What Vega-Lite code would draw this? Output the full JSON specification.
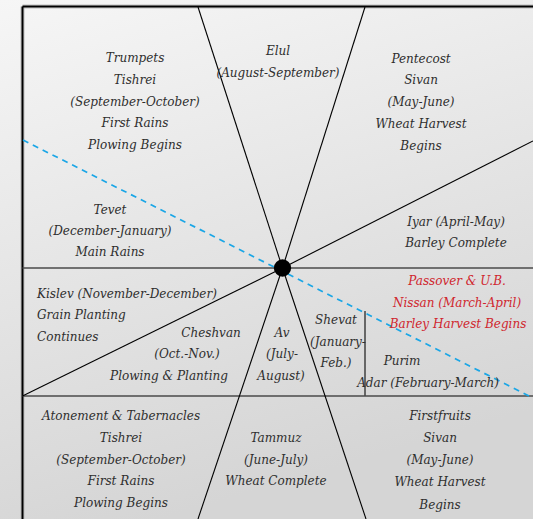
{
  "$schema": "https://vega.github.io/schema/vega-lite/v6.json",
  "width": 533,
  "height": 519,
  "padding": 0,
  "autosize": {"type": "none"},
  "background": "#eeeeee",
  "config": {"view": {"stroke": null}},
  "layer": [
    {
      "data": {"values": [{"x": 0, "y": 0, "x2": 533, "y2": 519}]},
      "mark": {"type": "rect", "fill": {"gradient": "linear", "x1": 0, "y1": 0, "x2": 0.3, "y2": 1, "stops": [{"offset": 0, "color": "#f6f6f6"}, {"offset": 1, "color": "#d5d5d5"}]}},
      "encoding": {
        "x": {"field": "x", "type": "quantitative", "scale": {"domain": [0, 533], "nice": false, "zero": false}, "axis": null},
        "x2": {"field": "x2"},
        "y": {"field": "y", "type": "quantitative", "scale": {"domain": [0, 519], "nice": false, "zero": false, "reverse": true}, "axis": null},
        "y2": {"field": "y2"}
      }
    },
    {
      "data": {"values": [
        {"x": 22.5, "y": 6.5, "x2": 22.5, "y2": 519},
        {"x": 22.5, "y": 6.5, "x2": 533, "y2": 6.5}
      ]},
      "mark": {"type": "rule", "stroke": "#b8b8b8", "strokeWidth": 4.5, "opacity": 0.6},
      "encoding": {
        "x": {"field": "x", "type": "quantitative"},
        "x2": {"field": "x2"},
        "y": {"field": "y", "type": "quantitative"},
        "y2": {"field": "y2"}
      }
    },
    {
      "data": {"values": [
        {"x": 22.5, "y": 6.5, "x2": 22.5, "y2": 519},
        {"x": 22.5, "y": 6.5, "x2": 533, "y2": 6.5}
      ]},
      "mark": {"type": "rule", "stroke": "#000000", "strokeWidth": 2},
      "encoding": {
        "x": {"field": "x", "type": "quantitative"},
        "x2": {"field": "x2"},
        "y": {"field": "y", "type": "quantitative"},
        "y2": {"field": "y2"}
      }
    },
    {
      "data": {"values": [
        {"x": 22.5, "y": 268, "x2": 533, "y2": 268},
        {"x": 22.5, "y": 396, "x2": 533, "y2": 396},
        {"x": 365, "y": 311, "x2": 365, "y2": 396}
      ]},
      "mark": {"type": "rule", "stroke": "#4a4a4a", "strokeWidth": 1.6},
      "encoding": {
        "x": {"field": "x", "type": "quantitative"},
        "x2": {"field": "x2"},
        "y": {"field": "y", "type": "quantitative"},
        "y2": {"field": "y2"}
      }
    },
    {
      "data": {"values": [
        {"x": 198, "y": 7, "x2": 282.5, "y2": 268},
        {"x": 365, "y": 7, "x2": 282.5, "y2": 268},
        {"x": 282.5, "y": 268, "x2": 533, "y2": 141},
        {"x": 22.5, "y": 396, "x2": 282.5, "y2": 268},
        {"x": 282.5, "y": 268, "x2": 198, "y2": 519},
        {"x": 282.5, "y": 268, "x2": 366, "y2": 519}
      ]},
      "mark": {"type": "rule", "stroke": "#000000", "strokeWidth": 1.1},
      "encoding": {
        "x": {"field": "x", "type": "quantitative"},
        "x2": {"field": "x2"},
        "y": {"field": "y", "type": "quantitative"},
        "y2": {"field": "y2"}
      }
    },
    {
      "data": {"values": [
        {"x": 23, "y": 140, "x2": 533, "y2": 398}
      ]},
      "mark": {"type": "rule", "stroke": "#1aa6e6", "strokeWidth": 1.7, "strokeDash": [6, 5]},
      "encoding": {
        "x": {"field": "x", "type": "quantitative"},
        "x2": {"field": "x2"},
        "y": {"field": "y", "type": "quantitative"},
        "y2": {"field": "y2"}
      }
    },
    {
      "data": {"values": [{"x": 282.5, "y": 268}]},
      "mark": {"type": "point", "shape": "circle", "filled": true, "color": "#000000", "size": 300, "opacity": 1},
      "encoding": {
        "x": {"field": "x", "type": "quantitative"},
        "y": {"field": "y", "type": "quantitative"}
      }
    },
    {
      "data": {"values": [
        {"x": 135, "y": 58, "t": "Trumpets"},
        {"x": 135, "y": 80, "t": "Tishrei"},
        {"x": 135, "y": 102, "t": "(September-October)"},
        {"x": 135, "y": 123, "t": "First Rains"},
        {"x": 135, "y": 145, "t": "Plowing Begins"},
        {"x": 278, "y": 51, "t": "Elul"},
        {"x": 278, "y": 73, "t": "(August-September)"},
        {"x": 421, "y": 59, "t": "Pentecost"},
        {"x": 421, "y": 80, "t": "Sivan"},
        {"x": 421, "y": 102, "t": "(May-June)"},
        {"x": 421, "y": 124, "t": "Wheat Harvest"},
        {"x": 421, "y": 146, "t": "Begins"},
        {"x": 110, "y": 210, "t": "Tevet"},
        {"x": 110, "y": 231, "t": "(December-January)"},
        {"x": 110, "y": 252, "t": "Main Rains"},
        {"x": 456, "y": 222, "t": "Iyar (April-May)"},
        {"x": 456, "y": 243, "t": "Barley Complete"},
        {"x": 211, "y": 333, "t": "Cheshvan"},
        {"x": 187, "y": 354, "t": "(Oct.-Nov.)"},
        {"x": 169, "y": 376, "t": "Plowing & Planting"},
        {"x": 282, "y": 333, "t": "Av"},
        {"x": 282, "y": 354, "t": "(July-"},
        {"x": 281, "y": 376, "t": "August)"},
        {"x": 336, "y": 320, "t": "Shevat"},
        {"x": 338, "y": 342, "t": "(January-"},
        {"x": 336, "y": 363, "t": "Feb.)"},
        {"x": 402, "y": 361, "t": "Purim"},
        {"x": 428, "y": 383, "t": "Adar (February-March)"},
        {"x": 121, "y": 416, "t": "Atonement & Tabernacles"},
        {"x": 121, "y": 438, "t": "Tishrei"},
        {"x": 121, "y": 460, "t": "(September-October)"},
        {"x": 121, "y": 481, "t": "First Rains"},
        {"x": 121, "y": 503, "t": "Plowing Begins"},
        {"x": 276, "y": 438, "t": "Tammuz"},
        {"x": 276, "y": 460, "t": "(June-July)"},
        {"x": 276, "y": 481, "t": "Wheat Complete"},
        {"x": 440, "y": 416, "t": "Firstfruits"},
        {"x": 440, "y": 438, "t": "Sivan"},
        {"x": 440, "y": 460, "t": "(May-June)"},
        {"x": 440, "y": 482, "t": "Wheat Harvest"},
        {"x": 440, "y": 505, "t": "Begins"}
      ]},
      "mark": {"type": "text", "font": "DejaVu Serif", "fontStyle": "italic", "fontSize": 12, "color": "#2e2e2e", "align": "center", "baseline": "middle"},
      "encoding": {
        "x": {"field": "x", "type": "quantitative"},
        "y": {"field": "y", "type": "quantitative"},
        "text": {"field": "t"}
      }
    },
    {
      "data": {"values": [
        {"x": 37, "y": 294, "t": "Kislev (November-December)"},
        {"x": 37, "y": 315, "t": "Grain Planting"},
        {"x": 37, "y": 337, "t": "Continues"}
      ]},
      "mark": {"type": "text", "font": "DejaVu Serif", "fontStyle": "italic", "fontSize": 12, "color": "#2e2e2e", "align": "left", "baseline": "middle"},
      "encoding": {
        "x": {"field": "x", "type": "quantitative"},
        "y": {"field": "y", "type": "quantitative"},
        "text": {"field": "t"}
      }
    },
    {
      "data": {"values": [
        {"x": 457, "y": 281, "t": "Passover & U.B."},
        {"x": 457, "y": 303, "t": "Nissan (March-April)"},
        {"x": 458, "y": 324, "t": "Barley Harvest Begins"}
      ]},
      "mark": {"type": "text", "font": "DejaVu Serif", "fontStyle": "italic", "fontSize": 12, "color": "#d0262e", "align": "center", "baseline": "middle"},
      "encoding": {
        "x": {"field": "x", "type": "quantitative"},
        "y": {"field": "y", "type": "quantitative"},
        "text": {"field": "t"}
      }
    }
  ]
}
